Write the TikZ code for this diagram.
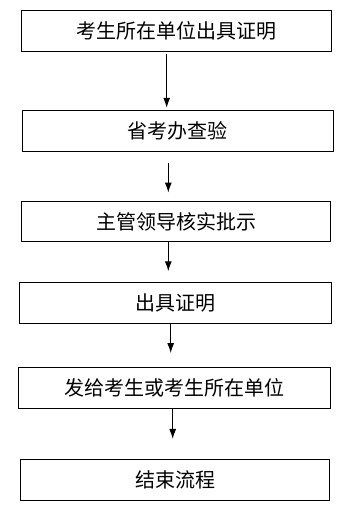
\documentclass[tikz,border=0pt]{standalone}
\usepackage{fontspec}
\newfontfamily\cjk{Noto Sans CJK SC}
\usetikzlibrary{arrows.meta}

\begin{document}
\begin{tikzpicture}[x=1pt, y=-1pt, >={Latex[length=10pt,width=7pt]}, line join=miter]
    \tikzset{
        stepbox/.style={draw, line width=1pt, minimum height=40.5pt, inner sep=0pt,
                        font=\cjk\fontsize{20}{20}\selectfont},
        flow/.style={->, line width=1pt}
    }
    % 画布范围
    \useasboundingbox (0,0) rectangle (351,517);

    % 流程方框 (按中心坐标放置)
    \node[stepbox, minimum width=310pt]   (b1) at (176.7,31.0)  {考生所在单位出具证明};
    \node[stepbox, minimum width=310.7pt] (b2) at (177.7,131.2) {省考办查验};
    \node[stepbox, minimum width=309.3pt] (b3) at (176.3,221.7) {主管领导核实批示};
    \node[stepbox, minimum width=312.4pt] (b4) at (175.5,303.0) {出具证明};
    \node[stepbox, minimum width=312.4pt] (b5) at (174.5,387.8) {发给考生或考生所在单位};
    \node[stepbox, minimum width=308.6pt] (b6) at (175.0,480.0) {结束流程};

    % 箭头 (略偏左，箭头尖不贴方框)
    \draw[flow] ([xshift=-10pt,yshift=-2pt]b1.south) -- ([xshift=-11pt,yshift=2.7pt]b2.north);
    \draw[flow] ([xshift=-9.4pt,yshift=-11pt]b2.south) -- ([xshift=-8pt,yshift=8.4pt]b3.north);
    \draw[flow] ([xshift=-8pt]b3.south) -- ([xshift=-7.2pt,yshift=11pt]b4.north);
    \draw[flow] ([xshift=-4.8pt]b4.south) -- ([xshift=-3.8pt,yshift=14pt]b5.north);
    \draw[flow] ([xshift=-1.8pt]b5.south) -- ([xshift=-2.3pt,yshift=20.3pt]b6.north);
\end{tikzpicture}
\end{document}
